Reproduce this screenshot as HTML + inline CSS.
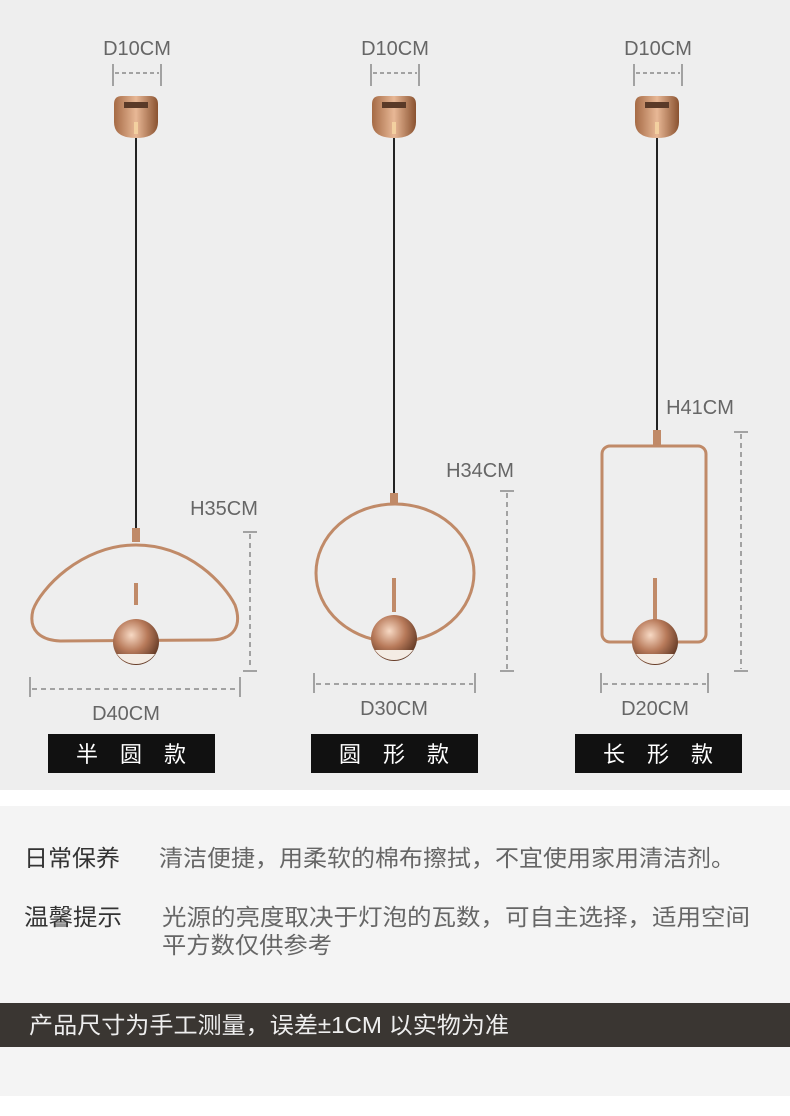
<!DOCTYPE html>
<html><head><meta charset="utf-8"><style>
body{margin:0;width:790px;height:1116px;background:#fff;overflow:hidden;font-family:"Liberation Sans","Noto Sans CJK SC",sans-serif}
svg{display:block}
</style></head><body>
<svg width="790" height="1116" viewBox="0 0 790 1116" xmlns="http://www.w3.org/2000/svg">
<defs>
<radialGradient id="g" cx="40%" cy="35%" r="70%"><stop offset="0" stop-color="#f7d9c4"/><stop offset="0.5" stop-color="#b87a5a"/><stop offset="1" stop-color="#5a3320"/></radialGradient>
<linearGradient id="c" x1="0" y1="0" x2="1" y2="0"><stop offset="0" stop-color="#a56a45"/><stop offset="0.5" stop-color="#e8b896"/><stop offset="1" stop-color="#8a5230"/></linearGradient>
<g id="canopy">
<path d="M-22,4 Q-22,-4 -14,-4 L14,-4 Q22,-4 22,4 L22,22 Q22,38 0,38 Q-22,38 -22,22Z" fill="url(#c)"/>
<rect x="-12" y="2" width="24" height="6" fill="#5a3a28"/>
<rect x="-2" y="22" width="4" height="12" fill="#f3d0a0"/>
</g>
<g id="ball">
<circle r="23" fill="url(#g)"/>
<path d="M-19,12 A23,23 0 0 0 19,12 Z" fill="#f4ece4"/>
</g>
</defs>
<rect width="790" height="790" fill="#eeeeee"/>
<rect y="806" width="790" height="290" fill="#f4f4f4"/>
<rect y="1003" width="790" height="44" fill="#3a3632"/>
<g font-size="20" fill="#666" text-anchor="middle">
<text x="137" y="55">D10CM</text><text x="395" y="55">D10CM</text><text x="658" y="55">D10CM</text>
<text x="224" y="515">H35CM</text><text x="480" y="477">H34CM</text><text x="700" y="414">H41CM</text>
<text x="126" y="720">D40CM</text><text x="394" y="715">D30CM</text><text x="655" y="715">D20CM</text>
</g>
<g stroke="#555" stroke-width="1" fill="none">
<path d="M113,64V86M161,64V86M371,64V86M419,64V86M634,64V86M682,64V86"/>
<path d="M115,73H159M373,73H417M636,73H680" stroke-dasharray="4,3"/>
<path d="M243,532H257M243,671H257M30,677V697M240,677V697"/>
<path d="M250,534V669M32,689H238" stroke-dasharray="5,4"/>
<path d="M500,491H514M500,671H514M314,673V693M475,673V693"/>
<path d="M507,493V669M316,684H473" stroke-dasharray="5,4"/>
<path d="M734,432H748M734,671H748M601,673V693M708,673V693"/>
<path d="M741,434V669M603,684H706" stroke-dasharray="5,4"/>
</g>
<g stroke="#222" stroke-width="2">
<path d="M136,138V532M394,138V497M657,138V432"/>
</g>
<use href="#canopy" x="136" y="100"/><use href="#canopy" x="394" y="100"/><use href="#canopy" x="657" y="100"/>
<g fill="none" stroke="#c08a68" stroke-width="3">
<path d="M136,545 C80,545 40,590 33,610 C28,630 40,640 60,641 L210,640 C235,640 242,625 235,605 C225,585 190,545 136,545Z"/>
<ellipse cx="395" cy="573" rx="79" ry="69"/>
<rect x="602" y="446" width="104" height="196" rx="8"/>
<path d="M136,583V605M394,578V612M655,578V620" stroke-width="4"/>
</g>
<rect x="132" y="528" width="8" height="14" fill="#c08a68"/>
<rect x="390" y="493" width="8" height="12" fill="#c08a68"/>
<rect x="653" y="430" width="8" height="16" fill="#c08a68"/>
<use href="#ball" x="136" y="642"/><use href="#ball" x="394" y="638"/><use href="#ball" x="655" y="642"/>
<rect x="48" y="734" width="167" height="39" fill="#111"/>
<rect x="311" y="734" width="167" height="39" fill="#111"/>
<rect x="575" y="734" width="167" height="39" fill="#111"/>
<g font-size="22" fill="#fff" text-anchor="middle">
<text x="131" y="762">半　圆　款</text><text x="394" y="762">圆　形　款</text><text x="658" y="762">长　形　款</text>
</g>
<g font-size="23" fill="#333">
<text x="24" y="866" textLength="96" lengthAdjust="spacingAndGlyphs">日常保养</text><text x="24" y="925" textLength="98" lengthAdjust="spacingAndGlyphs">温馨提示</text>
</g>
<g font-size="23" fill="#666">
<text x="159" y="866" textLength="576" lengthAdjust="spacingAndGlyphs">清洁便捷，用柔软的棉布擦拭，不宜使用家用清洁剂。</text>
<text x="162" y="925" textLength="588" lengthAdjust="spacingAndGlyphs">光源的亮度取决于灯泡的瓦数，可自主选择，适用空间</text>
<text x="162" y="953" textLength="170" lengthAdjust="spacingAndGlyphs">平方数仅供参考</text>
</g>
<text x="29" y="1033" font-size="23" fill="#eee" textLength="480" lengthAdjust="spacingAndGlyphs">产品尺寸为手工测量，误差±1CM 以实物为准</text>
</svg>
</body></html>
